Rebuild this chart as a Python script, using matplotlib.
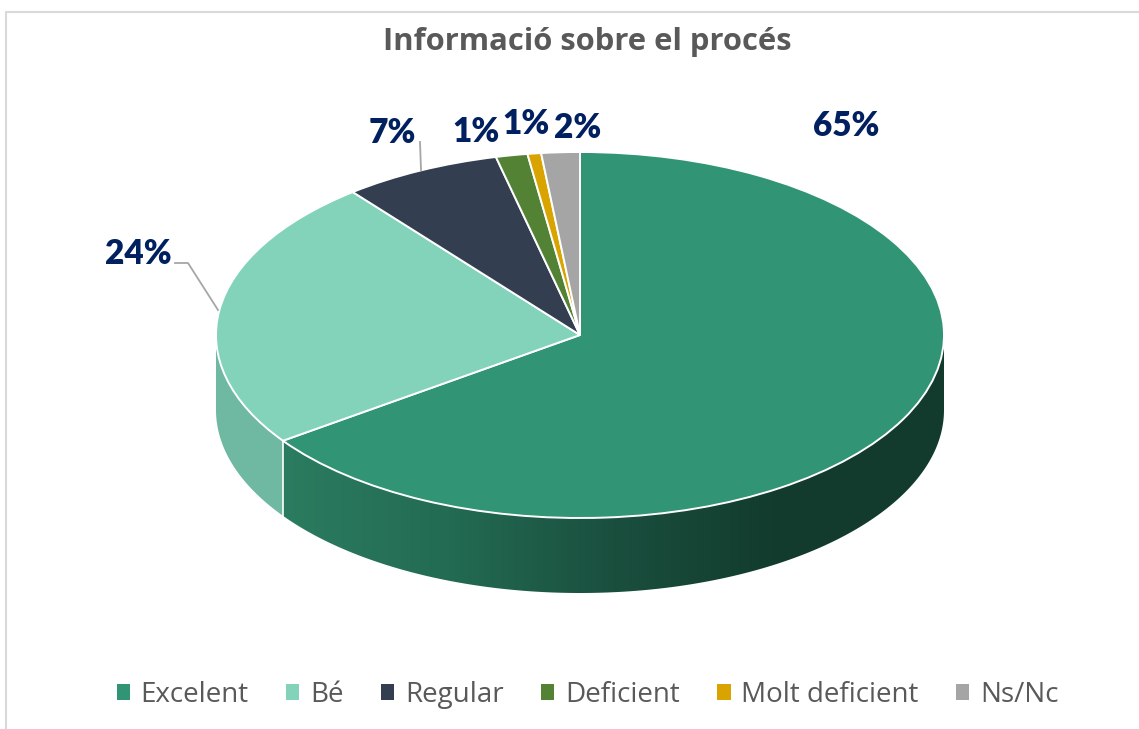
import numpy as np
import matplotlib.pyplot as plt
from matplotlib.colors import LinearSegmentedColormap
from matplotlib.patches import Polygon

categories = ['Excelent', 'Bé', 'Regular', 'Deficient', 'Molt deficient', 'Ns/Nc']
values = [65, 24, 7, 1.4, 0.6, 1.7]
title = 'Informació sobre el procés'

colors = ['#319475', '#83d3bb', '#333f50', '#548235', '#d9a300', '#a5a5a5']
label_pos = [(846, 126), (138, 254), (392, 133), (476, 132), (526, 124), (578, 128)]

W, H = 1139, 729
cx, cy, rx, ry, depth = 580, 335, 364, 183, 75

fig = plt.figure(figsize=(W / 100, H / 100), dpi=100)
ax = fig.add_axes([0, 0, 1, 1])
wedges, _ = ax.pie(values, startangle=90, counterclock=False, colors=colors,
                   wedgeprops=dict(edgecolor='white', linewidth=1.4, zorder=5))
ax.set_aspect('auto')
ax.set_xlim((0 - cx) / rx, (W - cx) / rx)
ax.set_ylim((cy - H) / ry, cy / ry)
d = depth / ry

# side of the pie, only the front half can be seen
edges = 90 - 360 * np.cumsum(values) / np.sum(values)
split = np.radians(edges[0])


def wall(t0, t1):
    t = np.linspace(t0, t1, 200)
    x, y = np.cos(t), np.sin(t)
    return np.vstack([np.column_stack([x, y]), np.column_stack([x, y - d])[::-1]])


dark = LinearSegmentedColormap.from_list('wall', ['#2b7c60', '#236b53', '#1a4f3e', '#123b2d', '#123b2d'])
img = ax.imshow(np.linspace(0, 1, 256)[None, :], extent=(np.cos(split), 1, -1 - d, 1),
                cmap=dark, aspect='auto', zorder=2)
img.set_clip_path(Polygon(wall(split, 0), transform=ax.transData))
ax.add_patch(Polygon(wall(np.pi, split + 2 * np.pi), closed=True, fc='#6fb8a1', ec='none', zorder=2))
ax.plot([np.cos(split)] * 2, [np.sin(split), np.sin(split) - d], color='white', lw=1.2, zorder=3)
ax.set_xlim((0 - cx) / rx, (W - cx) / rx)
ax.set_ylim((cy - H) / ry, cy / ry)
ax.axis('off')

# overlay in pixels for frame, texts and leader lines
ov = fig.add_axes([0, 0, 1, 1], facecolor='none')
ov.set_xlim(0, W)
ov.set_ylim(H, 0)
ov.axis('off')
ov.plot([6, 6, W], [H, 12, 12], color='#d9d9d9', lw=1.5)
ov.plot([175, 188, 218], [263, 263, 310], color='#a6a6a6', lw=1.3)
ov.plot([420, 421], [142, 170], color='#a6a6a6', lw=1.3)

ov.text(587, 42, title, ha='center', va='center', family='Open Sans', fontweight='bold',
        fontsize=22.3, color='#595959')
for v, (x, y) in zip(values, label_pos):
    ov.text(x, y, f'{v:.0f}%', ha='center', va='center', family='Lato', fontweight='heavy',
            fontsize=24, color='#002060')

leg = fig.legend(wedges, categories, loc='center', bbox_to_anchor=(587.5 / W, 1 - 695 / H), ncol=6,
                 frameon=False, prop=dict(family='Open Sans', size=20), labelcolor='#595959',
                 handlelength=0.48, handleheight=0.48, handletextpad=0.38, columnspacing=1.35)
for h in leg.legend_handles:
    h.set_edgecolor('none')

plt.savefig('out.png', dpi=100)
